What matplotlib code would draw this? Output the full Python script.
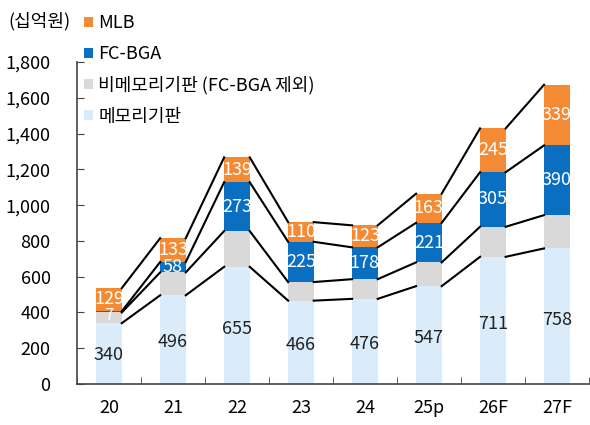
import matplotlib
matplotlib.use('Agg')
import matplotlib.pyplot as plt
import numpy as np

plt.rcParams['font.family'] = ['Noto Sans CJK KR', 'DejaVu Sans']

years = ['20', '21', '22', '23', '24', '25p', '26F', '27F']
memory = [340, 496, 655, 466, 476, 547, 711, 758]
non_memory = [60, 128, 200, 104, 110, 133, 168, 186]
fcbga = [7, 58, 273, 225, 178, 221, 305, 390]
mlb = [129, 133, 139, 110, 123, 163, 245, 339]

c_mem = '#DAEBF9'
c_non = '#D9D9D9'
c_fc = '#0B6FC1'
c_mlb = '#F58A35'

fig = plt.figure(figsize=(5.9, 4.25), dpi=100)
ax = fig.add_axes([0.1305, 0.0965, 0.8675, 0.7575])

x = np.arange(len(years))
w = 0.4
series = [(memory, c_mem, '메모리기판'),
          (non_memory, c_non, '비메모리기판 (FC-BGA 제외)'),
          (fcbga, c_fc, 'FC-BGA'),
          (mlb, c_mlb, 'MLB')]

bottom = np.zeros(len(years))
tops = []
bars = []
for vals, col, name in series:
    vals = np.array(vals, dtype=float)
    b = ax.bar(x, vals, w, bottom=bottom, color=col, label=name, zorder=2)
    bars.append(b)
    bottom = bottom + vals
    tops.append(bottom.copy())

# connecting lines between bars
for t in tops:
    for i in range(len(years) - 1):
        ax.plot([x[i] + w / 2, x[i + 1] - w / 2], [t[i], t[i + 1]],
                color='black', lw=1.5, zorder=3)

# labels
for i in range(len(years)):
    ax.text(x[i], memory[i] * 0.47, str(memory[i]), ha='center', va='center',
            fontsize=13, color='#222222', zorder=4)
    small = fcbga[i] < 20
    fc_mid = tops[1][i] + fcbga[i] / 2
    ax.text(x[i], fc_mid - (22 if small else 0), str(fcbga[i]),
            ha='center', va='center', fontsize=12 if small else 13,
            color='white', zorder=4)
    mlb_mid = tops[2][i] + mlb[i] / 2
    ax.text(x[i], mlb_mid + (6 if small else 0), str(mlb[i]),
            ha='center', va='center', fontsize=13, color='white', zorder=4)

ax.set_xlim(-0.5, len(years) - 0.5)
ax.set_ylim(0, 1800)
ax.set_yticks(range(0, 1801, 200))
ax.set_yticklabels([f'{v:,}' for v in range(0, 1801, 200)], fontsize=13)
ax.set_xticks(x)
ax.set_xticklabels(years, fontsize=13)
ax.set_xticks(np.arange(-0.5, len(years)), minor=True)
ax.tick_params(axis='x', which='major', length=0, pad=11)
ax.tick_params(axis='x', which='minor', length=5, direction='in', color='#444444')
ax.tick_params(axis='y', length=5, direction='in', color='#444444', pad=19)
for s in ['top', 'right']:
    ax.spines[s].set_visible(False)
for s in ['left', 'bottom']:
    ax.spines[s].set_color('#444444')
    ax.spines[s].set_linewidth(1.2)

handles = [bars[3], bars[2], bars[1], bars[0]]
labels = ['MLB', 'FC-BGA', '비메모리기판 (FC-BGA 제외)', '메모리기판']
fig.legend(handles, labels, loc='upper left', bbox_to_anchor=(0.125, 0.99),
           frameon=False, fontsize=13, handlelength=0.5, handleheight=0.5,
           handletextpad=0.3, labelspacing=0.72, borderaxespad=0.15)

fig.text(8 / 590, 1 - 21 / 425, '(십억원)', fontsize=13, va='center', ha='left')

fig.savefig('out.png', dpi=100)
